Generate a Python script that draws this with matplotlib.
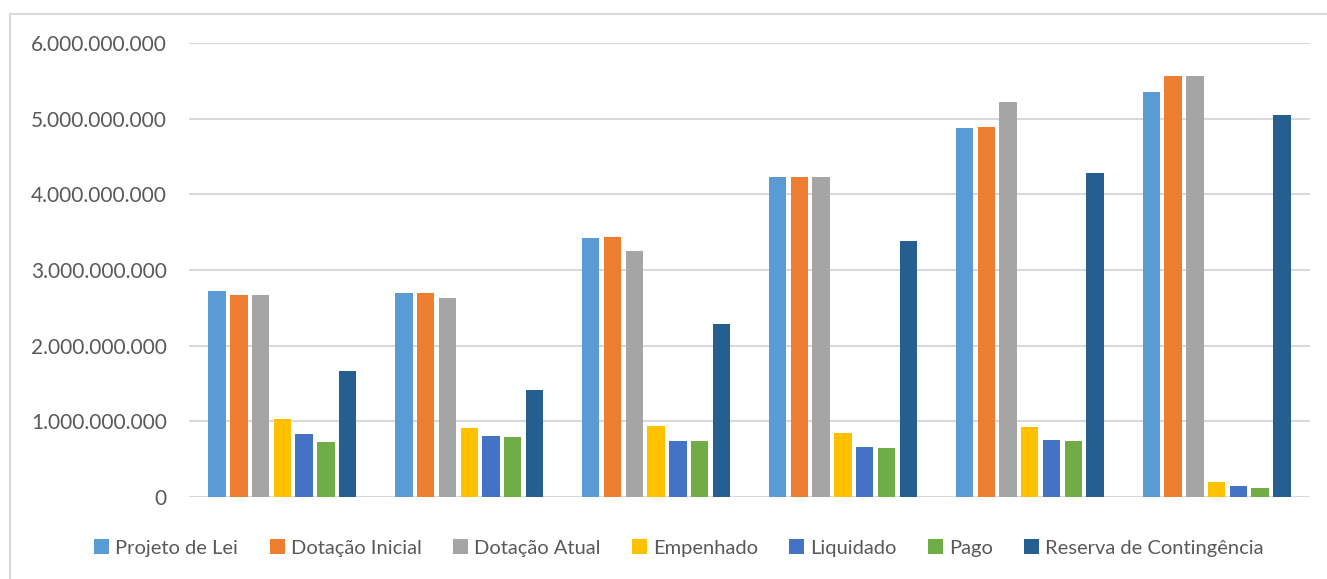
import matplotlib
matplotlib.use("Agg")
import matplotlib.pyplot as plt
import numpy as np
from matplotlib.lines import Line2D
from matplotlib.ticker import FuncFormatter

plt.rcParams['font.family'] = ['Lato', 'DejaVu Sans']

series_names = ["Projeto de Lei", "Dotação Inicial", "Dotação Atual", "Empenhado",
                "Liquidado", "Pago", "Reserva de Contingência"]
colors = ["#5B9BD5", "#ED7D31", "#A5A5A5", "#FFC000", "#4472C4", "#70AD47", "#255E91"]

# values per group (six groups), one list per series
projeto_de_lei = [2.72e9, 2.69e9, 3.42e9, 4.23e9, 4.88e9, 5.35e9]
dotacao_inicial = [2.665e9, 2.69e9, 3.43e9, 4.23e9, 4.89e9, 5.56e9]
dotacao_atual = [2.665e9, 2.63e9, 3.245e9, 4.23e9, 5.215e9, 5.56e9]
empenhado = [1.035e9, 0.908e9, 0.943e9, 0.846e9, 0.92e9, 0.194e9]
liquidado = [0.828e9, 0.81e9, 0.74e9, 0.657e9, 0.757e9, 0.145e9]
pago = [0.73e9, 0.797e9, 0.74e9, 0.648e9, 0.74e9, 0.115e9]
reserva = [1.66e9, 1.41e9, 2.29e9, 3.38e9, 4.28e9, 5.05e9]

all_series = [projeto_de_lei, dotacao_inicial, dotacao_atual, empenhado,
              liquidado, pago, reserva]

W, H = 1327, 579
fig = plt.figure(figsize=(W / 100, H / 100), dpi=100)
ax = fig.add_axes([189 / W, 1 - 497 / H, (1310 - 189) / W, (497 - 43) / H])

n_groups = len(projeto_de_lei)
x = np.arange(n_groups)
step = 0.1165
bar_w = 0.093
offsets = (np.arange(len(all_series)) - (len(all_series) - 1) / 2) * step

for vals, name, col, off in zip(all_series, series_names, colors, offsets):
    ax.bar(x + off, vals, width=bar_w, color=col, label=name, linewidth=0, zorder=3)

ax.set_xlim(-0.5, n_groups - 0.5)
ax.set_ylim(0, 6e9)
ax.set_yticks(np.arange(0, 6.01e9, 1e9))
ax.yaxis.set_major_formatter(FuncFormatter(lambda v, p: f"{int(round(v)):,}".replace(",", ".")))
ax.set_xticks([])
ax.grid(axis='y', color='#D9D9D9', linewidth=1.5, zorder=0)
ax.tick_params(axis='y', length=0, pad=16, labelsize=15, labelcolor='#595959')
for s in ax.spines.values():
    s.set_visible(False)

handles, labels = ax.get_legend_handles_labels()
fig.legend(handles, labels, loc='center', bbox_to_anchor=(679 / W, 1 - 548 / H),
           ncol=7, frameon=False, fontsize=14.5, labelcolor='#595959',
           handlelength=0.75, handleheight=0.75, handletextpad=0.3, columnspacing=1.55)

# chart frame lines (top and left)
fig.add_artist(Line2D([10 / W, 1.0], [1 - 14 / H, 1 - 14 / H], color='#D9D9D9',
                      linewidth=1.5, transform=fig.transFigure))
fig.add_artist(Line2D([10 / W, 10 / W], [0, 1 - 14 / H], color='#D9D9D9',
                      linewidth=1.5, transform=fig.transFigure))

fig.savefig("out.png", dpi=100)
